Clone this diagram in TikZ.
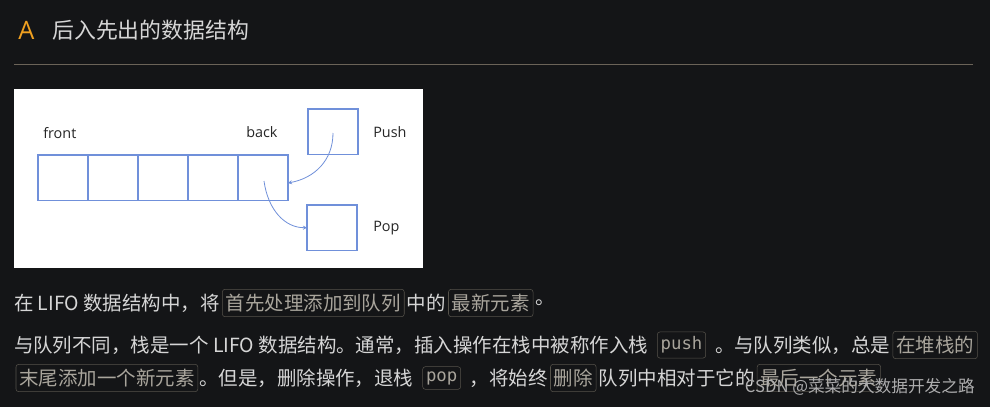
\documentclass[tikz,border=0pt]{standalone}
\usepackage{fontspec}
\setmainfont{Noto Sans CJK SC}
\newfontfamily\cjk{Noto Sans CJK SC}
\newfontfamily\monof{DejaVu Sans Mono}
\newfontfamily\latf{Open Sans}
\usetikzlibrary{arrows.meta}
\definecolor{bg}{HTML}{141517}
\definecolor{txt}{HTML}{D6D6D6}
\definecolor{chipb}{HTML}{55524A}
\definecolor{chipt}{HTML}{A9A59C}
\definecolor{cellc}{HTML}{7090DA}
\definecolor{rulec}{HTML}{6B6358}
\definecolor{orng}{HTML}{F0A020}
\begin{document}
\begin{tikzpicture}[x=0.75pt,y=-0.75pt,
  plain/.style={inner sep=0pt,outer sep=0pt,anchor=west,text=txt,font=\cjk\fontsize{14.6}{16}\selectfont},
  chip/.style={draw=chipb,rounded corners=2pt,inner xsep=2.5pt,inner ysep=3.5pt,outer sep=0pt,anchor=west,text=chipt,font=\cjk\fontsize{14.6}{16}\selectfont},
  mchip/.style={chip,font=\monof\fontsize{13}{16}\selectfont},
  cell/.style={draw=cellc,line width=1pt,minimum width=37.5pt,minimum height=34pt,inner sep=0pt,outer sep=0pt},
  lbl/.style={font=\latf\fontsize{10.8}{12}\selectfont,text=black!85,inner sep=0pt,anchor=west},
  arr/.style={draw=cellc,line width=0.6pt,-{Stealth[length=3pt,width=3pt]}}]
\fill[bg] (0,0) rectangle (990,407);
\useasboundingbox (0,0) rectangle (990,407);
\node[anchor=west,text=orng,inner sep=0pt,font=\latf\fontsize{19}{22}\selectfont] (A) at (18,30) {A};
\node[anchor=west,text=txt,inner sep=0pt,font=\cjk\fontsize{16.4}{19}\selectfont] (title) at (52,30) {后入先出的数据结构};
\draw[rulec,line width=0.7pt] (14,64) -- (973,64);
\fill[white] (14,89) rectangle (423,268);
\node[lbl] (front) at (43,133) {front};
\node[lbl] (back) at (246,132) {back};
\node[cell,anchor=north west] (c1) at (38,155) {};
\node[cell,anchor=west] (c2) at (c1.east) {};
\node[cell,anchor=west] (c3) at (c2.east) {};
\node[cell,anchor=west] (c4) at (c3.east) {};
\node[cell,anchor=west] (c5) at (c4.east) {};
\node[cell,anchor=north west] (push) at (308,109) {};
\node[cell,anchor=north west] (pop) at (307,205) {};
\node[lbl] (pushl) at (373,132) {Push};
\node[lbl] (popl) at (373,228) {Pop};
\coordinate (ps) at (333,133);
\coordinate (pe) at (c5.east);
\coordinate (qs) at (264,181);
\draw[arr] (ps) .. controls (333,160) and (315,178) .. ([yshift=-4]pe);
\draw[arr] (qs) .. controls (268,210) and (285,228) .. (pop.west);
% line 1
\node[plain] (a1) at (14,303) {在 LIFO 数据结构中，将};
\node[chip] (a2) at ([xshift=2]a1.east) {首先处理添加到队列};
\node[plain] (a3) at ([xshift=2]a2.east) {中的};
\node[chip] (a4) at ([xshift=2]a3.east) {最新元素};
\node[plain] (a5) at ([xshift=2]a4.east) {。};
% line 2
\node[plain] (b1) at (14,345) {与队列不同，栈是一个 LIFO 数据结构。通常，插入操作在栈中被称作入栈};
\node[mchip] (b2) at ([xshift=7]b1.east) {push};
\node[plain] (b3) at ([xshift=7]b2.east) {。与队列类似，总是};
\node[chip] (b4) at ([xshift=2]b3.east) {在堆栈的};
% line 3
\node[chip] (d1) at (16,378) {末尾添加一个新元素};
\node[plain] (d2) at ([xshift=1]d1.east) {。但是，删除操作，退栈};
\node[mchip] (d3) at ([xshift=7]d2.east) {pop};
\node[plain] (d4) at ([xshift=7]d3.east) {，将始终};
\node[chip] (d5) at ([xshift=2]d4.east) {删除};
\node[plain] (d6) at ([xshift=2]d5.east) {队列中相对于它的};
\node[chip] (d7) at ([xshift=2]d6.east) {最后一个元素};
\node[anchor=east,inner sep=0pt,text=white!65!bg,font=\cjk\fontsize{12.5}{14}\selectfont] (wm) at (975,387) {CSDN @菜菜的大数据开发之路};
\end{tikzpicture}
\end{document}
